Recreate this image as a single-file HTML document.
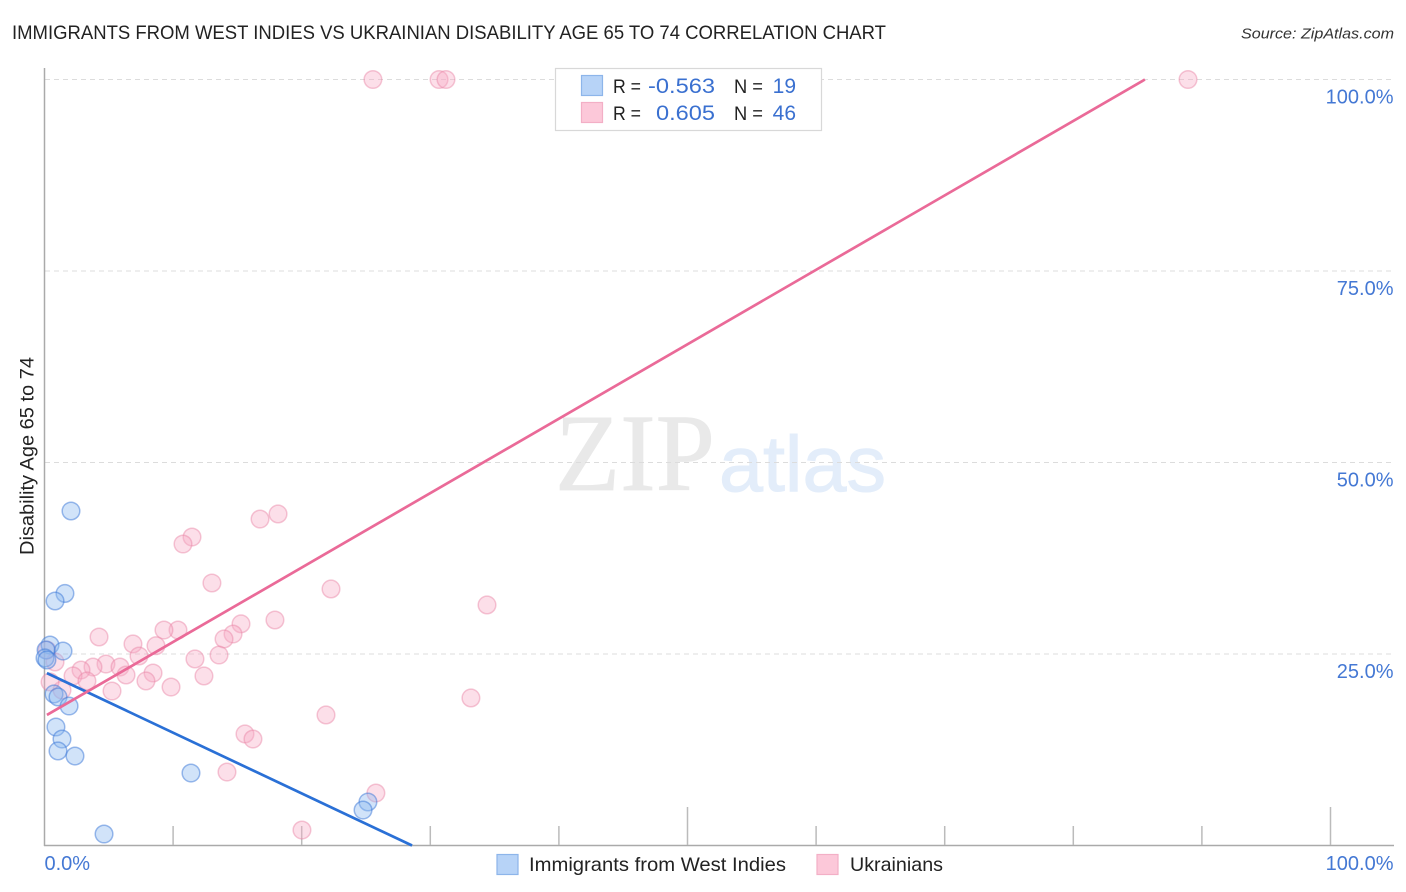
<!DOCTYPE html>
<html>
<head>
<meta charset="utf-8">
<title>Immigrants from West Indies vs Ukrainian Disability Age 65 to 74 Correlation Chart</title>
<style>
html,body{margin:0;padding:0;background:#fff;}
svg{display:block;font-family:"Liberation Sans",sans-serif;}
</style>
</head>
<body>
<svg id="chart" xmlns="http://www.w3.org/2000/svg" width="1406" height="892" viewBox="0 0 1406 892">
  <text x="12" y="39" font-size="19" fill="#222" textLength="874" lengthAdjust="spacingAndGlyphs">IMMIGRANTS FROM WEST INDIES VS UKRAINIAN DISABILITY AGE 65 TO 74 CORRELATION CHART</text>
  <text x="1394" y="38.5" font-size="15" font-style="italic" fill="#333" text-anchor="end" textLength="153" lengthAdjust="spacingAndGlyphs">Source: ZipAtlas.com</text>
  <text transform="translate(33.5,555) rotate(-90)" font-size="19" fill="#222" textLength="198" lengthAdjust="spacingAndGlyphs">Disability Age 65 to 74</text>

  <g>
    <text x="555" y="490" font-family="'Liberation Serif',serif" font-size="110" fill="#e9e9e9" stroke="#e9e9e9" stroke-width="0.8" textLength="160" lengthAdjust="spacingAndGlyphs">ZIP</text>
    <text x="719" y="491" font-size="79" fill="#e3edfa" stroke="#e3edfa" stroke-width="1" textLength="167" lengthAdjust="spacingAndGlyphs">atlas</text>
  </g>

  <g id="grid"></g>
  <g id="axes"></g>
  <g id="pts-pink"></g>
  <g id="pts-blue"></g>
  <g id="lines"></g>

  <g>
    <rect x="555.5" y="68.5" width="266" height="62" fill="#fff" stroke="#d8d8d8" stroke-width="1.2"/>
    <rect x="581.5" y="75.5" width="21" height="20" fill="#b7d3f7" stroke="#8db5ea" stroke-width="1.2"/>
    <rect x="581.5" y="102.5" width="21" height="20" fill="#fcc8d9" stroke="#f3afc6" stroke-width="1.2"/>
    <text x="613" y="93" font-size="19" fill="#222" textLength="28" lengthAdjust="spacingAndGlyphs">R =</text>
    <text x="715" y="93" font-size="21" fill="#3a70d0" text-anchor="end" textLength="67" lengthAdjust="spacingAndGlyphs">-0.563</text>
    <text x="734" y="93" font-size="19" fill="#222" textLength="29" lengthAdjust="spacingAndGlyphs">N =</text>
    <text x="796" y="93" font-size="21" fill="#3a70d0" text-anchor="end">19</text>
    <text x="613" y="120" font-size="19" fill="#222" textLength="28" lengthAdjust="spacingAndGlyphs">R =</text>
    <text x="715" y="120" font-size="21" fill="#3a70d0" text-anchor="end" textLength="59" lengthAdjust="spacingAndGlyphs">0.605</text>
    <text x="734" y="120" font-size="19" fill="#222" textLength="29" lengthAdjust="spacingAndGlyphs">N =</text>
    <text x="796" y="120" font-size="21" fill="#3a70d0" text-anchor="end">46</text>
  </g>

  <g>
    <g>
      <rect x="497" y="854.5" width="21" height="20" fill="#b7d3f7" stroke="#8db5ea" stroke-width="1.2"/>
      <text x="529" y="871" font-size="19.5" fill="#222" textLength="257" lengthAdjust="spacingAndGlyphs">Immigrants from West Indies</text>
    </g>
    <g>
      <rect x="817" y="854.5" width="21" height="20" fill="#fcc8d9" stroke="#f3afc6" stroke-width="1.2"/>
      <text x="850" y="871" font-size="19.5" fill="#222" textLength="93" lengthAdjust="spacingAndGlyphs">Ukrainians</text>
    </g>
  </g>
</svg>
<script>
const yTickValues = [25, 50, 75, 100];
const yTickLabels = ['25.0%', '50.0%', '75.0%', '100.0%'];
const xTickValues = [10, 20, 30, 40, 50, 60, 70, 80, 90, 100];
const xMajorTicks = [50, 100];
const xEdgeValues = [0, 100];
const xEdgeLabels = ['0.0%', '100.0%'];

const blueX = [2.06,1.59,0.82,0.43,1.44,0.12,0.04,0.19,0.74,1.05,1.91,0.89,1.36,1.05,2.37,11.39,4.63,25.15,24.77];
const blueY = [43.67,32.90,31.92,26.17,25.39,25.52,24.48,24.22,19.78,19.39,18.21,15.47,13.90,12.34,11.68,9.46,1.50,5.68,4.63];

const pinkX = [25.54,30.68,31.22,88.92,18.16,16.76,11.47,10.77,13.02,22.28,34.41,17.92,15.28,14.66,13.96,10.38,9.29,4.24,6.88,8.67,7.35,13.57,11.70,4.78,3.77,5.87,2.84,2.22,6.34,8.44,12.40,7.89,3.30,9.84,5.25,33.16,21.89,15.59,16.21,14.19,25.77,20.02,0.82,1.36,0.43,0.19];
const pinkY = [100,100,100,100,43.28,42.62,40.27,39.36,34.27,33.49,31.40,29.44,28.94,27.61,26.96,28.13,28.13,27.22,26.31,26.08,24.74,24.87,24.35,23.69,23.30,23.30,22.91,22.13,22.26,22.52,22.13,21.48,21.48,20.69,20.17,19.26,17.04,14.56,13.90,9.59,6.85,2.02,23.96,20.30,21.35,25.52];

const blueTrendX = [0.19, 28.58];
const blueTrendY = [22.5, 0];
const pinkTrendX = [0.19, 85.57];
const pinkTrendY = [17.04, 100];

const NS = 'http://www.w3.org/2000/svg';
function sx(v){ return 44.5 + v * 12.86; }
function sy(v){ return 845.5 - v * 7.66; }
function mk(parent, tag, attrs){
  const el = document.createElementNS(NS, tag);
  for (const k in attrs) el.setAttribute(k, attrs[k]);
  parent.appendChild(el);
  return el;
}
const grid = document.getElementById('grid');
const axes = document.getElementById('axes');

yTickValues.forEach(function(v, i){
  const line = mk(grid, 'line', {x1:45, x2:1394, y1:sy(v), y2:sy(v), stroke:'#dcdcdc', 'stroke-width':1, 'stroke-dasharray':'5 4'});
  
  
  const t = mk(axes, 'text', {x:1393.5, y:sy(v) + 24, 'font-size':20, fill:'#4478d4', 'text-anchor':'end'});
  
  
  t.textContent = yTickLabels[i];
});

const yAxis = mk(axes, 'line', {x1:44.5, x2:44.5, y1:68, y2:846, stroke:'#aaa', 'stroke-width':1.5});


const xAxis = mk(axes, 'line', {x1:44, x2:1394, y1:845.5, y2:845.5, stroke:'#aaa', 'stroke-width':1.5});



xTickValues.forEach(function(v){
  const major = xMajorTicks.indexOf(v) >= 0;
  const tick = mk(axes, 'line', {x1:sx(v), x2:sx(v), y1:major ? 807 : 826, y2:845, stroke:'#bbb', 'stroke-width':1.5});
  
  
});
xEdgeValues.forEach(function(v, i){
  const t = mk(axes, 'text', {x:i === 0 ? sx(v) : 1393.5, y:870, 'font-size':20, fill:'#4478d4', 'text-anchor':i === 0 ? 'start' : 'end'});
  
  
  t.textContent = xEdgeLabels[i];
});

const pinkGroup = document.getElementById('pts-pink');
pinkX.forEach(function(v, i){
  const c = mk(pinkGroup, 'circle', {cx:sx(v), cy:sy(pinkY[i]), r:8.8, fill:'rgba(248,170,196,0.38)', stroke:'rgba(232,130,165,0.45)', 'stroke-width':1.5});
  
  
});
const blueGroup = document.getElementById('pts-blue');
blueX.forEach(function(v, i){
  const c = mk(blueGroup, 'circle', {cx:sx(v), cy:sy(blueY[i]), r:8.8, fill:'rgba(140,185,240,0.4)', stroke:'rgba(60,120,216,0.5)', 'stroke-width':1.5});
  
  
});

const lines = document.getElementById('lines');
const blueLine = mk(lines, 'line', {x1:sx(blueTrendX[0]), y1:sy(blueTrendY[0]), x2:sx(blueTrendX[1]), y2:sy(blueTrendY[1]), stroke:'#2a70d6', 'stroke-width':2.7});


const pinkLine = mk(lines, 'line', {x1:sx(pinkTrendX[0]), y1:sy(pinkTrendY[0]), x2:sx(pinkTrendX[1]), y2:sy(pinkTrendY[1]), stroke:'#ea6a98', 'stroke-width':2.7});


</script>
</body>
</html>
